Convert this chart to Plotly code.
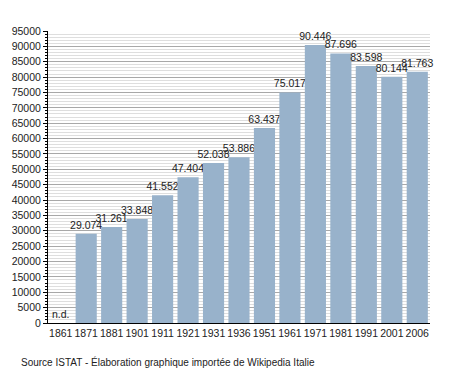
import plotly.graph_objects as go

years = ["1861", "1871", "1881", "1901", "1911", "1921", "1931", "1936",
         "1951", "1961", "1971", "1981", "1991", "2001", "2006"]
population = [0, 29074, 31261, 33848, 41552, 47404, 52038, 53886,
              63437, 75017, 90446, 87696, 83598, 80144, 81763]
labels = ["n.d.", "29.074", "31.261", "33.848", "41.552", "47.404", "52.038", "53.886",
          "63.437", "75.017", "90.446", "87.696", "83.598", "80.144", "81.763"]
y_ticks = list(range(0, 95001, 5000))

fig = go.Figure(go.Bar(
    x=years, y=population, text=labels, textposition="outside",
    cliponaxis=False,
    textfont=dict(family="Liberation Sans, Arial, sans-serif", size=10.5, color="#222"),
    marker=dict(color="#98b2cb", line=dict(width=0)),
))

fig.update_layout(
    width=458, height=373,
    margin=dict(l=48, r=28, t=31, b=50, autoexpand=False),
    paper_bgcolor="white", plot_bgcolor="white",
    bargap=0.17,
    showlegend=False,
    font=dict(family="Liberation Sans, Arial, sans-serif", size=10.5, color="#222"),
    uniformtext=dict(minsize=10, mode="show"),
    annotations=[dict(
        text="Source ISTAT - Élaboration graphique importée de Wikipedia Italie",
        xref="paper", yref="paper", x=(19 - 48) / 382, y=-0.134,
        xanchor="left", yanchor="middle", showarrow=False,
        font=dict(size=10, color="#222"),
    )],
)
fig.update_yaxes(
    range=[0, 95000], tickvals=y_ticks, ticktext=[str(v) for v in y_ticks],
    showgrid=True, gridcolor="#a8a8a8", gridwidth=1,
    showline=True, linecolor="black", linewidth=1,
    ticks="outside", ticklen=4, tickcolor="black",
    minor=dict(dtick=1000, showgrid=True, gridcolor="#dedede", ticks="outside",
               ticklen=2, tickcolor="black"),
    zeroline=False, automargin=False,
)
fig.update_xaxes(
    type="category", showline=True, linecolor="black", linewidth=1,
    ticks="", tickangle=0, tickfont=dict(size=10.5), automargin=False,
)

fig.write_html("out.html", config={"displayModeBar": False},
               post_script="document.body.style.margin='0';document.body.style.overflow='hidden';")
